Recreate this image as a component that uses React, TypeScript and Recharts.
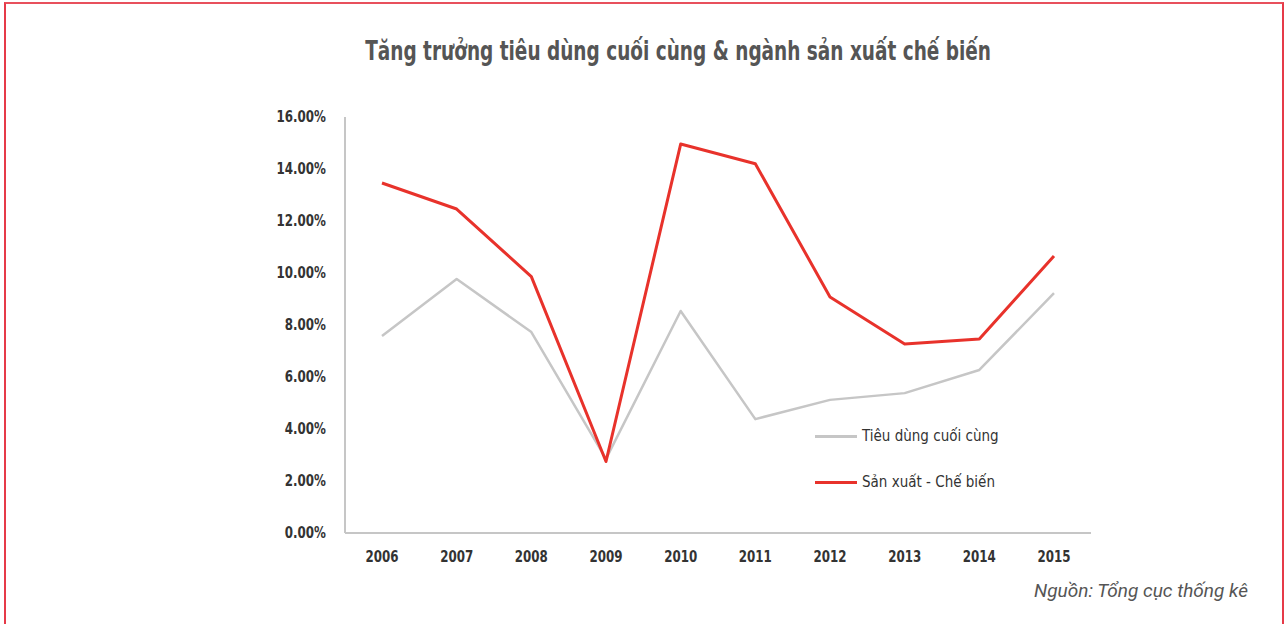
import React from 'react';
import { LineChart, Line, XAxis, YAxis } from 'recharts';

const years = ['2006', '2007', '2008', '2009', '2010', '2011', '2012', '2013', '2014', '2015'];
const consumption = [7.58, 9.77, 7.73, 2.85, 8.54, 4.38, 5.12, 5.38, 6.27, 9.23];
const manufacturing = [13.46, 12.46, 9.86, 2.75, 14.96, 14.2, 9.08, 7.27, 7.46, 10.65];
const yTicks = [0, 2, 4, 6, 8, 10, 12, 14, 16];

const title = 'Tăng trưởng tiêu dùng cuối cùng & ngành sản xuất chế biến';
const source = 'Nguồn: Tổng cục thống kê';
const consumptionName = 'Tiêu dùng cuối cùng';
const manufacturingName = 'Sản xuất - Chế biến';

const data = years.map((y, i) => ({ year: y, c: consumption[i], m: manufacturing[i] }));

const NARROW = '"DejaVu Sans Condensed", "DejaVu Sans", sans-serif';
const GRAY = '#c6c6c6';
const RED = '#e8322b';

const YTick = (props: any) => {
  const { x, y, payload } = props;
  return (
    <g transform={`translate(${x},${y}) scale(0.88,1)`}>
      <text x={0} y={0} dy="0.355em" textAnchor="end" fontFamily={NARROW} fontWeight="bold" fontSize={15} fill="#333">
        {`${Number(payload.value).toFixed(2)}%`}
      </text>
    </g>
  );
};

const XTick = (props: any) => {
  const { x, y, payload } = props;
  return (
    <g transform={`translate(${x},${y}) scale(0.88,1)`}>
      <text x={0} y={0} dy="0.71em" textAnchor="middle" fontFamily={NARROW} fontWeight="bold" fontSize={15} fill="#333">
        {payload.value}
      </text>
    </g>
  );
};

const legendItems = [
  { name: consumptionName, color: GRAY },
  { name: manufacturingName, color: RED },
];

export default function App() {
  return (
    <div style={{ position: 'absolute', left: 0, top: 0, width: 1284, height: 624, background: '#fff', overflow: 'hidden' }}>
      <div
        style={{
          position: 'absolute',
          left: 4,
          top: 2,
          width: 1276,
          height: 640,
          borderLeft: '2px solid #e63a48',
          borderTop: '2px solid #e8505c',
          borderRight: '2px solid #e63a48',
        }}
      />
      <div
        style={{
          position: 'absolute',
          left: 0,
          width: 1284,
          top: 36,
          textAlign: 'center',
          fontFamily: NARROW,
          fontWeight: 'bold',
          fontSize: 26,
          color: '#555',
          whiteSpace: 'nowrap',
        }}
      >
        <span style={{ display: 'inline-block', transform: 'translateX(36px) scaleX(0.79)' }}>{title}</span>
      </div>
      <div style={{ position: 'absolute', left: 0, top: 0 }}>
        <LineChart width={1284} height={624} data={data} margin={{ top: 117, right: 193, bottom: 0, left: 0 }}>
          <XAxis
            dataKey="year"
            padding={{ left: 37, right: 37 }}
            axisLine={{ stroke: GRAY, strokeWidth: 2 }}
            tickLine={false}
            tickSize={0}
            tickMargin={18}
            height={91}
            tick={<XTick />}
          />
          <YAxis
            domain={[0, 16]}
            ticks={yTicks}
            width={345}
            axisLine={{ stroke: GRAY, strokeWidth: 2 }}
            tickLine={false}
            tickSize={0}
            tickMargin={19}
            tick={<YTick />}
          />
          <Line dataKey="c" name={consumptionName} stroke={GRAY} strokeWidth={2.5} dot={false} isAnimationActive={false} strokeLinejoin="round" />
          <Line dataKey="m" name={manufacturingName} stroke={RED} strokeWidth={3} dot={false} isAnimationActive={false} strokeLinejoin="round" />
        </LineChart>
      </div>
      <div style={{ position: 'absolute', left: 815, top: 413, fontFamily: NARROW, fontSize: 15, color: '#333' }}>
        {legendItems.map((it, i) => (
          <div key={i} style={{ display: 'flex', alignItems: 'center', height: 46 }}>
            <div style={{ width: 42, height: 3, background: it.color, marginRight: 5 }} />
            <span>{it.name}</span>
          </div>
        ))}
      </div>
      <div
        style={{
          position: 'absolute',
          right: 36,
          top: 579,
          fontFamily: 'Roboto, sans-serif',
          fontStyle: 'italic',
          fontSize: 19,
          color: '#555',
          whiteSpace: 'nowrap',
        }}
      >
        {source}
      </div>
    </div>
  );
}
